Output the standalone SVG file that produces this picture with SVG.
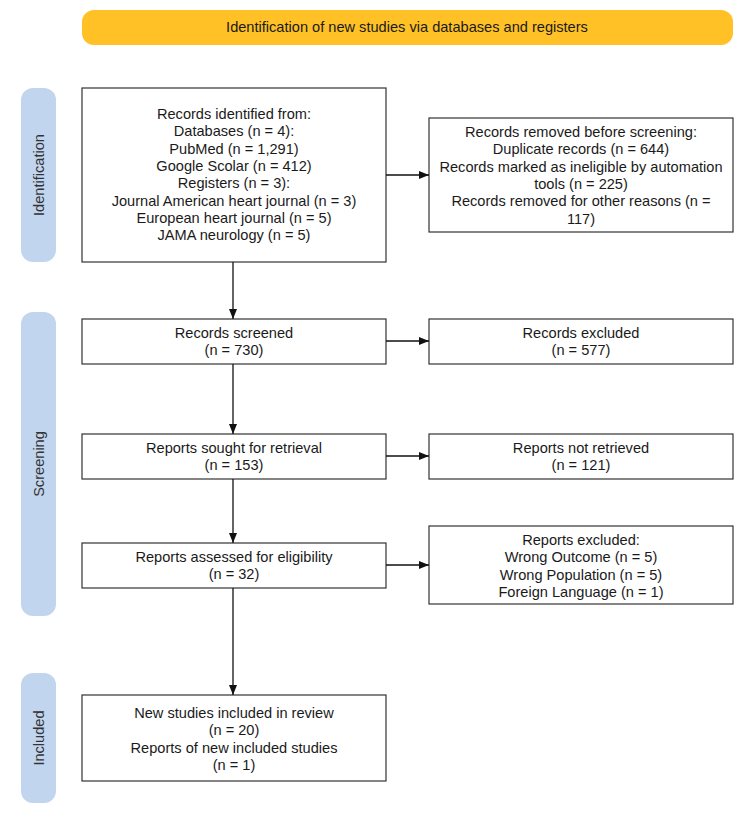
<svg xmlns="http://www.w3.org/2000/svg" width="750" height="818" viewBox="0 0 750 818">
<style>
text{font-family:"Liberation Sans",Arial,sans-serif;font-size:14.6px;fill:#1a1a1a;text-anchor:middle}
.box{fill:#fff;stroke:#333;stroke-width:1.2}
.bar{fill:#C1D5EF}
.lbl{fill:#333}
.edge{stroke:#111;stroke-width:1.3;fill:none;marker-end:url(#ah)}
</style>
<defs>
<marker id="ah" viewBox="0 0 10 10" refX="10" refY="5" markerWidth="10" markerHeight="10" markerUnits="userSpaceOnUse" orient="auto">
<path d="M0,1 L10,5 L0,9 Z" fill="#111"/>
</marker>
</defs>
<rect width="750" height="818" fill="#fff"/>
<g id="banner">
<rect x="82" y="10" width="651" height="35" rx="12" fill="#FFC125"/>
<text x="407" y="32">Identification of new studies via databases and registers</text>
</g>
<g id="phase-identification">
<rect class="bar" x="21" y="88" width="35" height="174" rx="12"/>
<text class="lbl" transform="translate(43.5,175) rotate(-90)">Identification</text>
</g>
<g id="phase-screening">
<rect class="bar" x="21" y="312" width="35" height="304" rx="12"/>
<text class="lbl" transform="translate(43.5,464) rotate(-90)">Screening</text>
</g>
<g id="phase-included">
<rect class="bar" x="21" y="673" width="35" height="130" rx="12"/>
<text class="lbl" transform="translate(43.5,738) rotate(-90)">Included</text>
</g>
<g id="records-identified">
<rect class="box" x="82" y="88" width="304" height="174"/>
<text x="234" y="119">Records identified from:</text>
<text x="234" y="136.3">Databases (n = 4):</text>
<text x="234" y="153.6">PubMed (n = 1,291)</text>
<text x="234" y="170.9">Google Scolar (n = 412)</text>
<text x="234" y="188.2">Registers (n = 3):</text>
<text x="234" y="205.5">Journal American heart journal (n = 3)</text>
<text x="234" y="222.8">European heart journal (n = 5)</text>
<text x="234" y="240.1">JAMA neurology (n = 5)</text>
</g>
<g id="records-removed">
<rect class="box" x="429" y="118" width="304" height="114"/>
<text x="581" y="137">Records removed before screening:</text>
<text x="581" y="154.3">Duplicate records (n = 644)</text>
<text x="581" y="171.6">Records marked as ineligible by automation</text>
<text x="581" y="188.9">tools (n = 225)</text>
<text x="581" y="206.2">Records removed for other reasons (n =</text>
<text x="581" y="223.5">117)</text>
</g>
<g id="records-screened">
<rect class="box" x="82" y="319" width="304" height="45"/>
<text x="234" y="338">Records screened</text>
<text x="234" y="355.3">(n = 730)</text>
</g>
<g id="records-excluded">
<rect class="box" x="429" y="319" width="304" height="45"/>
<text x="581" y="338">Records excluded</text>
<text x="581" y="355.3">(n = 577)</text>
</g>
<g id="reports-sought">
<rect class="box" x="82" y="434" width="304" height="45"/>
<text x="234" y="453">Reports sought for retrieval</text>
<text x="234" y="470.3">(n = 153)</text>
</g>
<g id="reports-not-retrieved">
<rect class="box" x="429" y="434" width="304" height="45"/>
<text x="581" y="453">Reports not retrieved</text>
<text x="581" y="470.3">(n = 121)</text>
</g>
<g id="reports-assessed">
<rect class="box" x="82" y="543" width="304" height="45"/>
<text x="234" y="562">Reports assessed for eligibility</text>
<text x="234" y="579.3">(n = 32)</text>
</g>
<g id="reports-excluded">
<rect class="box" x="429" y="526" width="304" height="78"/>
<text x="581" y="545">Reports excluded:</text>
<text x="581" y="562.3">Wrong Outcome (n = 5)</text>
<text x="581" y="579.6">Wrong Population (n = 5)</text>
<text x="581" y="596.9">Foreign Language (n = 1)</text>
</g>
<g id="included">
<rect class="box" x="82" y="695" width="304" height="86"/>
<text x="234" y="718">New studies included in review</text>
<text x="234" y="735.3">(n = 20)</text>
<text x="234" y="752.6">Reports of new included studies</text>
<text x="234" y="769.9">(n = 1)</text>
</g>
<g id="connectors">
<path class="edge" d="M233,262 V319"/>
<path class="edge" d="M233,364 V434"/>
<path class="edge" d="M233,479 V543"/>
<path class="edge" d="M233,588 V695"/>
<path class="edge" d="M386,175 H429"/>
<path class="edge" d="M386,341 H429"/>
<path class="edge" d="M386,456 H429"/>
<path class="edge" d="M386,565 H429"/>
</g>
</svg>
